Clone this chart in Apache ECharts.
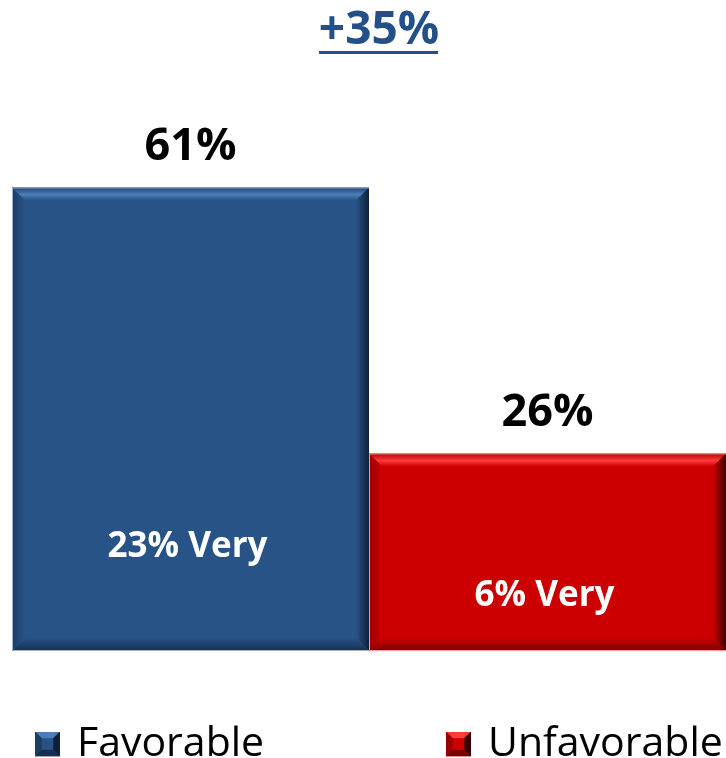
<!DOCTYPE html>
<html>
<head>
<meta charset="utf-8">
<script src="https://cdn.jsdelivr.net/npm/echarts@6/dist/echarts.min.js"></script>
<style>html,body{margin:0;padding:0;background:#fff;}#c{width:726px;height:758px;}</style>
</head>
<body>
<div id="c"></div>
<script>
// ---- data ----
const categories = ['Favorable', 'Unfavorable'];
const totals = [61, 26];
const veryValues = [23, 6];
const netLabel = '+35%';

// ---- style ----
const palettes = [
  {base:'#285387', topOuter:'#1f4575', topHi:'#4d7cb8', leftOuter:'#1c3d66', rightOuter:'#0f2038', bottomOuter:'#172f50', edge:'#9db3cf'},
  {base:'#cc0000', topOuter:'#b00000', topHi:'#ff3a3a', leftOuter:'#9a0000', rightOuter:'#3a0000', bottomOuter:'#7a0000', edge:'#ff9a9a'}
];
const insideLabelFrac = [0.225, 0.278];
const FONT = '"Open Sans", "Noto Sans", sans-serif';

function iconSvg(p) {
  const s = '<svg xmlns="http://www.w3.org/2000/svg" width="26" height="26">' +
    '<rect width="26" height="26" fill="' + p.base + '"/>' +
    '<polygon points="0,0 26,0 13,13" fill="' + p.topHi + '"/>' +
    '<polygon points="0,0 13,13 0,26" fill="' + p.leftOuter + '"/>' +
    '<polygon points="26,0 26,26 13,13" fill="' + p.rightOuter + '"/>' +
    '<polygon points="0,26 13,13 26,26" fill="' + p.bottomOuter + '"/>' +
    '<rect x="7" y="7" width="12" height="12" fill="' + p.base + '"/>' +
    '</svg>';
  return 'image://data:image/svg+xml;charset=utf-8,' + encodeURIComponent(s);
}

function makeRender(ci) {
  const p = palettes[ci];
  return function (params, api) {
    const idx = api.value(0);
    const val = api.value(1);
    const very = api.value(2);
    const base = api.coord([idx, 0]);
    const topP = api.coord([idx, val]);
    const w = api.size([1, 0])[0];
    const l = base[0] - w / 2, r = base[0] + w / 2, t = topP[1], b = base[1];
    const bv = 13;
    const lg = (x1, y1, x2, y2, stops) => new echarts.graphic.LinearGradient(x1, y1, x2, y2, stops);
    return {
      type: 'group',
      children: [
        {type:'rect', shape:{x:l, y:t, width:r-l, height:b-t}, style:{fill:p.base}},
        {type:'polygon', shape:{points:[[l,t],[r,t],[r-bv,t+bv],[l+bv,t+bv]]},
          style:{fill: lg(0,0,0,1,[{offset:0,color:p.topOuter},{offset:0.55,color:p.topHi},{offset:1,color:p.base}])}},
        {type:'polygon', shape:{points:[[l,t],[l+bv,t+bv],[l+bv,b-bv],[l,b]]},
          style:{fill: lg(0,0,1,0,[{offset:0,color:p.leftOuter},{offset:1,color:p.base}])}},
        {type:'polygon', shape:{points:[[r,t],[r,b],[r-bv,b-bv],[r-bv,t+bv]]},
          style:{fill: lg(0,0,1,0,[{offset:0,color:p.base},{offset:1,color:p.rightOuter}])}},
        {type:'polygon', shape:{points:[[l,b],[l+bv,b-bv],[r-bv,b-bv],[r,b]]},
          style:{fill: lg(0,0,0,1,[{offset:0,color:p.base},{offset:1,color:p.bottomOuter}])}},
        {type:'polyline', shape:{points:[[r,t+0.5],[l+0.5,t+0.5],[l+0.5,b-0.5],[r,b-0.5]]}, style:{stroke:p.edge, lineWidth:1, fill:null}},
        {type:'text', x: base[0], y: t - 40, style:{text: val + '%', fill:'#000', font:'bold 45px ' + FONT, align:'center', verticalAlign:'middle'}},
        {type:'text', x: base[0] - 3, y: b - (b - t) * insideLabelFrac[ci], style:{text: very + '% Very', fill:'#fff', font:'bold 35px ' + FONT, align:'center', verticalAlign:'middle'}}
      ]
    };
  };
}

const chart = echarts.init(document.getElementById('c'));
const series = categories.map((name, i) => ({
  type: 'custom',
  name: name,
  renderItem: makeRender(i),
  clip: false,
  itemStyle: {color: palettes[i].base},
  data: [[i, totals[i], veryValues[i]]]
}));

chart.setOption({
  backgroundColor: '#fff',
  animation: false,
  grid: {left: 12, right: 0, top: 119, bottom: 107},
  xAxis: {type: 'category', data: categories, show: false},
  yAxis: {type: 'value', min: 0, max: 70, show: false},
  legend: categories.map((name, i) => ({
    data: [{name: name, icon: iconSvg(palettes[i])}],
    left: i === 0 ? 30 : 441,
    top: 718,
    itemWidth: 25,
    itemHeight: 25,
    itemGap: 0,
    selectedMode: false,
    textStyle: {fontFamily: FONT, fontSize: 41, color: '#000', lineHeight: 42, padding: [0, 0, 0, 12]}
  })),
  graphic: [
    {type:'text', x: 379, y: 31,
      style:{text: netLabel, fill:'#24508a', font:'bold 46px ' + FONT, align:'center', verticalAlign:'middle'}},
    {type:'rect', shape:{x:319, y:51, width:119, height:3}, style:{fill:'#24508a'}}
  ],
  series: series
});
</script>
</body>
</html>
